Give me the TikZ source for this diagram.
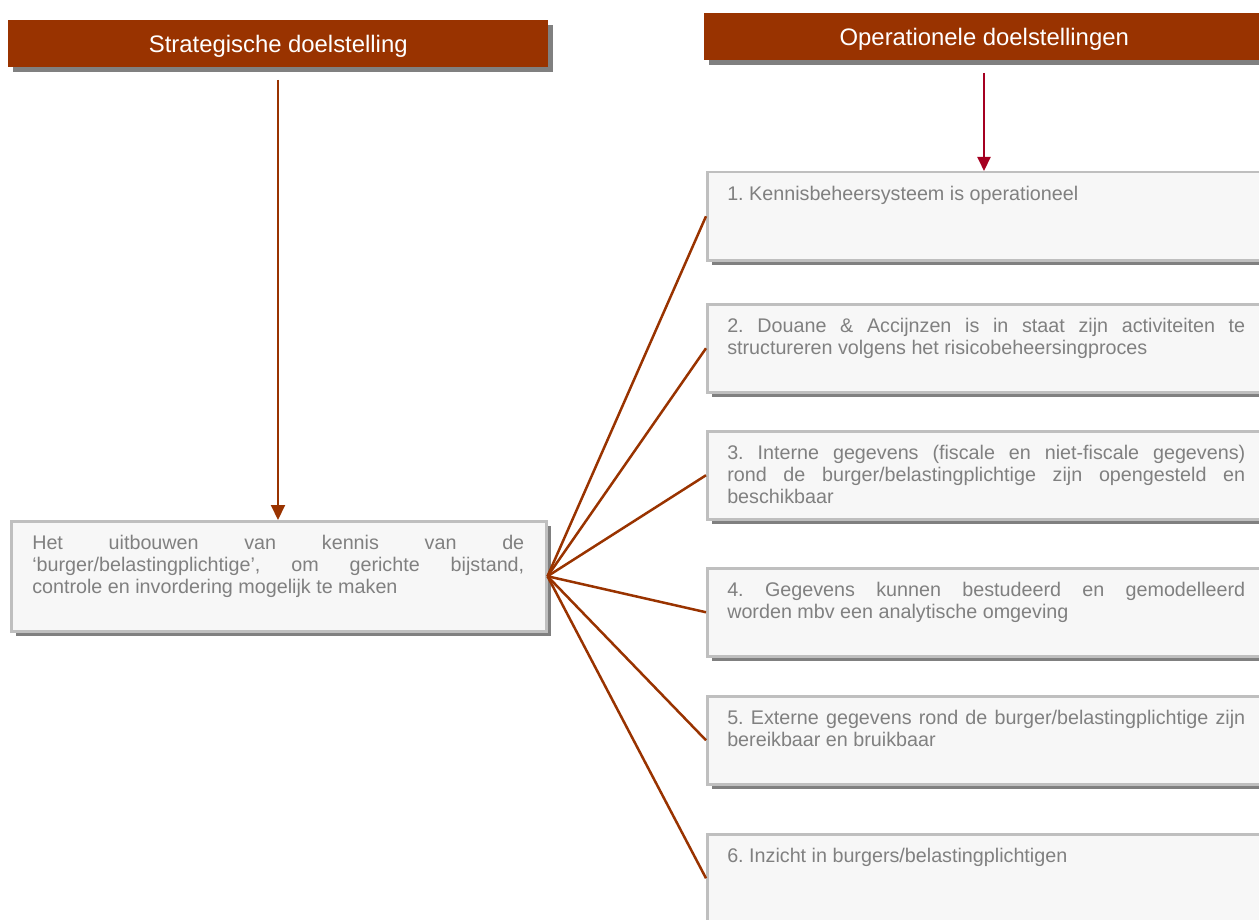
\documentclass[tikz,border=0pt]{standalone}
\usepackage{fontspec}
\setmainfont{Liberation Sans}
\usetikzlibrary{arrows.meta,shadows}
\newlength\pxu \setlength\pxu{0.75pt}
\definecolor{rust}{HTML}{993300}
\definecolor{crimsonred}{HTML}{A50021}
\definecolor{shadowgray}{HTML}{808080}
\definecolor{boxfill}{HTML}{F7F7F7}
\definecolor{boxline}{HTML}{BFBFBF}
\definecolor{txtgray}{HTML}{808080}
\frenchspacing
\begin{document}
\begin{tikzpicture}[x=0.75pt,y=-0.75pt,
  header/.style={rectangle, fill=rust, text=white, anchor=north west, inner sep=0pt,
    minimum height=47\pxu, font=\fontsize{17.9}{20}\selectfont, text height=12.8pt, text depth=0pt,
    drop shadow={fill=shadowgray, opacity=1, shadow xshift=5\pxu, shadow yshift=-5\pxu}},
  goalbox/.style={rectangle, draw=boxline, line width=2.5\pxu, fill=boxfill, anchor=north west,
    inner sep=0pt, drop shadow={fill=shadowgray, opacity=1, shadow xshift=5\pxu, shadow yshift=-5\pxu}},
  rbox/.style={goalbox, minimum width=556\pxu, minimum height=88\pxu},
  goaltext/.style={anchor=base west, inner sep=0pt, text=txtgray, align=justify,
    font=\fontsize{14.8}{16.5}\selectfont,
    execute at begin node={\frenchspacing\tolerance=10000 \hyphenpenalty=10000 \exhyphenpenalty=10000 \hbadness=10000 }},
  rtext/.style={goaltext, text width=518\pxu},
  fan/.style={draw=rust, line width=2.5\pxu},
  link/.style={line width=2\pxu}
]
\useasboundingbox (0,0) rectangle (1259,920);
\clip (0,0) rectangle (1259,920);

% headers
\node[header, minimum width=540\pxu] (hl) at (8,20) {Strategische doelstelling};
\node[header, minimum width=560\pxu] (hr) at (704,13) {Operationele doelstellingen};

% left box
\node[goalbox, minimum width=535\pxu, minimum height=110\pxu] (lbox) at (10,520) {};
\node[goaltext, text width=492\pxu] (ltext) at (32,549)
  {Het uitbouwen van kennis van de\linebreak ‘burger/belastingplichtige’, om gerichte bijstand,\linebreak controle en invordering mogelijk te maken};

% right boxes
\node[rbox] (r1) at (706,171) {};
\node[rbox] (r2) at (706,303) {};
\node[rbox] (r3) at (706,430) {};
\node[rbox] (r4) at (706,567) {};
\node[rbox] (r5) at (706,695) {};
\node[rbox] (r6) at (706,833) {};

\node[rtext] (t1) at (727,200) {1. Kennisbeheersysteem is operationeel};
\node[rtext] (t2) at (727,332) {2. Douane \& Accijnzen is in staat zijn activiteiten te\linebreak structureren volgens het risicobeheersingproces};
\node[rtext] (t3) at (727,459) {3. Interne gegevens (fiscale en niet-fiscale gegevens)\linebreak rond de burger/belastingplichtige zijn opengesteld en\linebreak beschikbaar};
\node[rtext] (t4) at (727,596) {4. Gegevens kunnen bestudeerd en gemodelleerd\linebreak worden mbv een analytische omgeving};
\node[rtext] (t5) at (727,724) {5. Externe gegevens rond de burger/belastingplichtige zijn\linebreak bereikbaar en bruikbaar};
\node[rtext] (t6) at (727,862) {6. Inzicht in burgers/belastingplichtigen};

% arrows
\coordinate (lstart) at (278,80);
\coordinate (rstart) at (984,73);
\draw[link, rust, -{Triangle[width=10.5pt,length=11.25pt]}] (lstart) -- (lstart |- lbox.north);
\draw[link, crimsonred, -{Triangle[width=9.75pt,length=10.5pt]}] (rstart) -- (rstart |- r1.north);

% fan connectors
\foreach \r in {r1,r2,r3,r4,r5,r6}
  \draw[fan] (lbox.east) -- (\r.west);
\end{tikzpicture}
\end{document}
